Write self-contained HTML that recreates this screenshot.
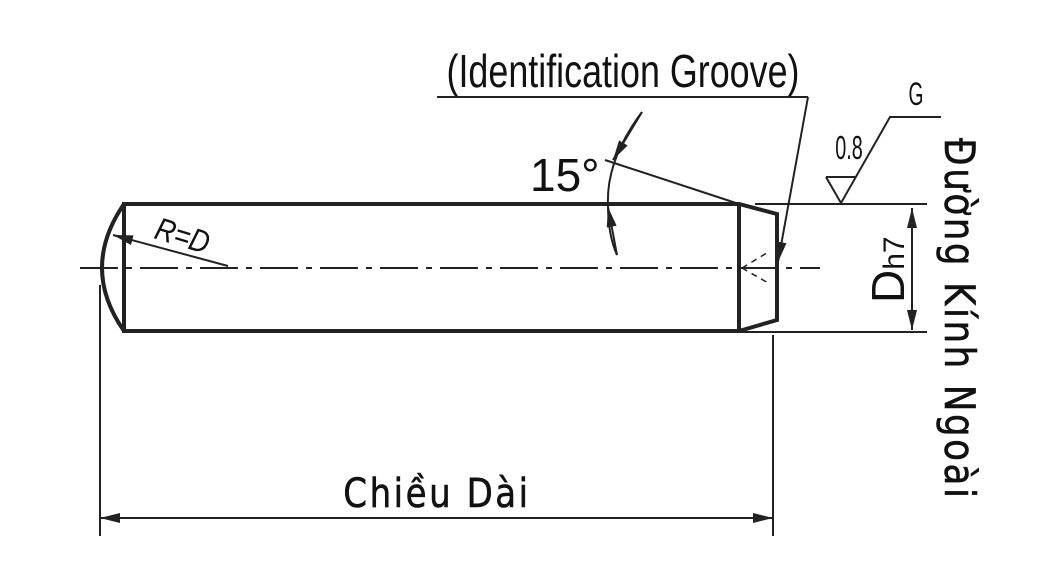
<!DOCTYPE html>
<html><head><meta charset="utf-8"><style>body{margin:0;background:#fff}svg{display:block}</style></head><body>
<svg width="1041" height="582" viewBox="0 0 1041 582" xmlns="http://www.w3.org/2000/svg" font-family="Liberation Sans, DejaVu Sans, sans-serif">
<defs>
<marker id="a" markerWidth="20" markerHeight="10" refX="20" refY="5" orient="auto-start-reverse" markerUnits="userSpaceOnUse"><path d="M0,0 L20,5 L0,10 z" fill="#222"/></marker>
</defs>
<g stroke="#222" fill="none">
<path d="M124,204 H739 L777,214 V320 L739,331 H124 Z" stroke-width="4"/>
<line x1="739" y1="204" x2="739" y2="331" stroke-width="4"/>
<path d="M124,204 Q80,268 124,331" stroke-width="4"/>
<line x1="80" y1="268" x2="820" y2="268" stroke-width="2" stroke-dasharray="38,8,6,8"/>
<path d="M742,268 L770,251 M742,268 L770,284" stroke-width="1.5" stroke-dasharray="6,5"/>
<line x1="228" y1="266" x2="113" y2="235" stroke-width="2" marker-end="url(#a)"/>
<line x1="755" y1="204" x2="927" y2="204" stroke-width="2"/>
<line x1="739" y1="332" x2="927" y2="332" stroke-width="2"/>
<line x1="912" y1="208" x2="912" y2="330" stroke-width="2" marker-start="url(#a)" marker-end="url(#a)"/>
<path d="M826,177 H856 M826,177 L841,203 L890,117 H941" stroke-width="2"/>
<line x1="605" y1="160" x2="739" y2="204" stroke-width="2"/>
<path d="M642,112 Q606,160 608,205 Q608,235 617,255" stroke-width="2"/>
<line x1="642" y1="112" x2="613" y2="160" stroke-width="2" marker-end="url(#a)"/>
<line x1="617" y1="255" x2="608" y2="207" stroke-width="2" marker-end="url(#a)"/>
<path d="M437,97 H808" stroke-width="2"/>
<line x1="808" y1="97" x2="778" y2="262" stroke-width="2" marker-end="url(#a)"/>
<line x1="100" y1="285" x2="100" y2="536" stroke-width="2"/>
<line x1="773" y1="335" x2="773" y2="536" stroke-width="2"/>
<line x1="100" y1="518" x2="773" y2="518" stroke-width="2" marker-start="url(#a)" marker-end="url(#a)"/>
</g>
<g fill="#111">
<text x="623" y="87" font-size="46" text-anchor="middle" transform="translate(623,87) scale(0.78,1) translate(-623,-87)">(Identification Groove)</text>
<text x="530" y="191" font-size="46">15°</text>
<text x="0" y="0" font-size="32" font-style="italic" transform="translate(153,238) rotate(17) scale(0.85,1)">R=D</text>
<text x="849" y="159" font-size="33" text-anchor="middle" transform="translate(849,159) scale(0.6,1) translate(-849,-159)">0.8</text>
<text x="916" y="105" font-size="32" text-anchor="middle" transform="translate(916,105) scale(0.6,1) translate(-916,-105)">G</text>
<text transform="translate(904,303) rotate(-90)" font-size="46">D<tspan font-size="30">h7</tspan></text>
<text x="437" y="507" font-size="40" text-anchor="middle" letter-spacing="3" font-family="DejaVu Sans, sans-serif" stroke="#111" stroke-width="0.6" transform="translate(437,507) scale(0.85,1) translate(-437,-507)">Chiều Dài</text>
<text transform="translate(945,138) rotate(90) scale(0.85,1)" font-size="42" letter-spacing="3" font-family="DejaVu Sans, sans-serif" stroke="#111" stroke-width="0.6">Đường Kính Ngoài</text>
</g>
</svg>
</body></html>
